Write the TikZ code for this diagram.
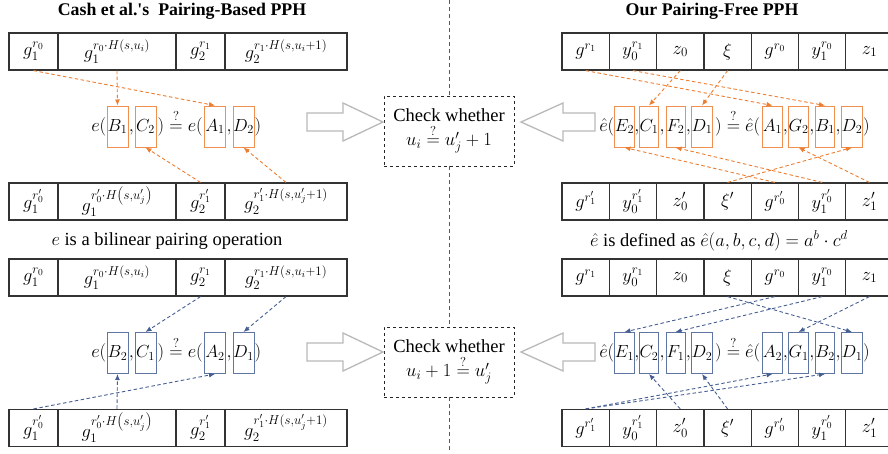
\documentclass[tikz,border=0pt]{standalone}
\usepackage{fix-cm}
\usepackage{amsmath,amssymb}
\usepackage{fontspec}
\setmainfont{Liberation Serif}
\usetikzlibrary{calc,positioning,arrows.meta}

\definecolor{pphorange}{RGB}{237,125,49}
\definecolor{pphblue}{RGB}{68,94,146}

\tikzset{
  cell/.style={draw=black!80,line width=1.2pt,minimum height=37pt,inner sep=0pt},
  argbox/.style={line width=1pt,minimum height=41pt,minimum width=19pt,inner sep=0pt,font=\fontsize{17.5}{20}\selectfont},
  eqtext/.style={inner sep=0pt,anchor=base},
  olink/.style={draw=pphorange,line width=0.9pt,dash pattern=on 3.5pt off 2.5pt,-{Latex[length=6pt,width=5pt]}},
  blink/.style={olink,draw=pphblue},
  chkbox/.style={draw=black!85,line width=0.9pt,dashed,fill=white,align=center,minimum width=130pt,minimum height=70pt},
  hollow/.style={draw=gray!55,line width=1.3pt,fill=white,line join=miter},
  sep/.style={draw=gray!70!black,line width=0.9pt,dash pattern=on 4pt off 3pt}
}

\begin{document}
\begin{tikzpicture}[x=1pt,y=-1pt,font=\fontsize{18.5}{22}\selectfont]
    \useasboundingbox (0,0) rectangle (888,453);

    % titles
    \node[font=\fontsize{17.8}{21}\selectfont\bfseries] (ltitle) at (182,11) {Cash et al.\textquotesingle s\ \ Pairing-Based PPH};
    \node[font=\fontsize{17.8}{21}\selectfont\bfseries] (rtitle) at (712,11) {Our Pairing-Free PPH};

    % left rows of group elements
    \foreach \row/\y in {1/51.5,3/277.5} {
        \node[cell,minimum width=49pt] (l\row c1) at (33.5,\y) {$g_1^{r_0}$};
        \node[cell,minimum width=118pt] (l\row c2) at (117,\y) {$g_1^{r_0\cdot H(s,u_i)}$};
        \node[cell,minimum width=49pt] (l\row c3) at (200.5,\y) {$g_2^{r_1}$};
        \node[cell,minimum width=122pt] (l\row c4) at (286,\y) {$g_2^{r_1\cdot H(s,u_i+1)}$};
    }
    \foreach \row/\y in {2/201.5,4/428} {
        \node[cell,minimum width=49pt] (l\row c1) at (33.5,\y) {$g_1^{r_0'}$};
        \node[cell,minimum width=118pt] (l\row c2) at (117,\y) {$g_1^{r_0'\cdot H\left(s,u_j'\right)}$};
        \node[cell,minimum width=49pt] (l\row c3) at (200.5,\y) {$g_2^{r_1'}$};
        \node[cell,minimum width=122pt] (l\row c4) at (286,\y) {$g_2^{r_1'\cdot H(s,u_j'+1)}$};
    }

    % right rows
    \foreach \row/\y in {1/51.5,3/277.5}
        \foreach \c [count=\i] in {g^{r_1},y_0^{r_1},z_0,\xi,g^{r_0},y_1^{r_0},z_1}
            \node[cell,minimum width=47.3pt] (r\row c\i) at ({538.35+47.3*\i},\y) {$\c$};
    \foreach \row/\y in {2/201.5,4/428}
        \foreach \c [count=\i] in {g^{r_1'},y_0^{r_1'},z_0',\xi',g^{r_0'},y_1^{r_0'},z_1'}
            \node[cell,minimum width=47.3pt] (r\row c\i) at ({538.35+47.3*\i},\y) {$\c$};

    \node (ldesc) at (167,241) {$e$ is a bilinear pairing operation};
    \node (rdesc) at (719,241) {$\hat{e}$ is defined as $\hat{e}(a,b,c,d)=a^b\cdot c^d$};

    % pairing checks, left
    \foreach \n/\x/\lab in {ltB1/117.5/B_1,ltC2/145.5/C_2,ltA1/215/A_1,ltD2/243.5/D_2}
        \node[argbox,minimum width=21pt,draw=pphorange!85] (\n) at (\x,126.5) {$\lab$};
    \foreach \n/\x/\lab in {lbB2/117.5/B_2,lbC1/145.5/C_1,lbA2/215/A_2,lbD1/243.5/D_1}
        \node[argbox,minimum width=21pt,draw=pphblue!85] (\n) at (\x,353) {$\lab$};
    \node[eqtext,anchor=base east] at (ltB1.base west) {$e($};
    \node[eqtext] at ($(ltB1.base east)!.5!(ltC2.base west)$) {$,$};
    \node[eqtext] at ($(ltC2.base east)!.5!(ltA1.base west)$) {$)\overset{?}{=}e($};
    \node[eqtext] at ($(ltA1.base east)!.5!(ltD2.base west)$) {$,$};
    \node[eqtext,anchor=base west] at (ltD2.base east) {$)$};
    \node[eqtext,anchor=base east] at (lbB2.base west) {$e($};
    \node[eqtext] at ($(lbB2.base east)!.5!(lbC1.base west)$) {$,$};
    \node[eqtext] at ($(lbC1.base east)!.5!(lbA2.base west)$) {$)\overset{?}{=}e($};
    \node[eqtext] at ($(lbA2.base east)!.5!(lbD1.base west)$) {$,$};
    \node[eqtext,anchor=base west] at (lbD1.base east) {$)$};

    % pairing-free checks, right
    \foreach \n/\x/\lab in {rtE2/624.5/E_2,rtC1/649/C_1,rtF2/675.5/F_2,rtD1/702/D_1,
                            rtA1/772.5/A_1,rtG2/798.5/G_2,rtB1/825/B_1,rtD2/852/D_2}
        \node[argbox,draw=pphorange!85] (\n) at (\x,126.5) {$\lab$};
    \foreach \n/\x/\lab in {rbE1/624.5/E_1,rbC2/649/C_2,rbF1/675.5/F_1,rbD2/702/D_2,
                            rbA2/772.5/A_2,rbG1/798.5/G_1,rbB2/825/B_2,rbD1/852/D_1}
        \node[argbox,draw=pphblue!85] (\n) at (\x,353) {$\lab$};
    \foreach \a/\b in {rtE2/rtC1,rtC1/rtF2,rtF2/rtD1,rtA1/rtG2,rtG2/rtB1,rtB1/rtD2,
                       rbE1/rbC2,rbC2/rbF1,rbF1/rbD2,rbA2/rbG1,rbG1/rbB2,rbB2/rbD1}
        \node[eqtext] at ($(\a.base east)!.5!(\b.base west)$) {$,$};
    \node[eqtext,anchor=base east] at (rtE2.base west) {$\hat{e}($};
    \node[eqtext] at ($(rtD1.base east)!.5!(rtA1.base west)$) {$)\overset{?}{=}\hat{e}($};
    \node[eqtext,anchor=base west] at (rtD2.base east) {$)$};
    \node[eqtext,anchor=base east] at (rbE1.base west) {$\hat{e}($};
    \node[eqtext] at ($(rbD2.base east)!.5!(rbA2.base west)$) {$)\overset{?}{=}\hat{e}($};
    \node[eqtext,anchor=base west] at (rbD1.base east) {$)$};

    % where each argument comes from
    \draw[olink] (l1c1.south) -- (ltA1.north);
    \draw[olink] (l1c2.south) -- (ltB1.north);
    \draw[olink] (l2c3.north) -- (ltC2.south);
    \draw[olink] (l2c4.north) -- (ltD2.south);
    \draw[blink] (l3c3.south) -- (lbC1.north);
    \draw[blink] (l3c4.south) -- (lbD1.north);
    \draw[blink] (l4c1.north) -- (lbA2.south);
    \draw[blink] (l4c2.north) -- (lbB2.south);

    \draw[olink] (r1c1.south) -- (rtA1.north);
    \draw[olink] (r1c2.south) -- (rtB1.north);
    \draw[olink] (r1c3.south) -- (rtC1.north);
    \draw[olink] (r1c4.south) -- (rtD1.north);
    \draw[olink] (r2c5.north) -- (rtE2.south);
    \draw[olink] (r2c6.north) -- (rtF2.south);
    \draw[olink] (r2c7.north) -- (rtG2.south);
    \draw[olink] (r2c4.north) -- (rtD2.south);
    \draw[blink] (r3c5.south) -- (rbE1.north);
    \draw[blink] (r3c6.south) -- (rbF1.north);
    \draw[blink] (r3c7.south) -- (rbG1.north);
    \draw[blink] (r3c4.south) -- (rbD1.north);
    \draw[blink] (r4c1.north) -- (rbA2.south);
    \draw[blink] (r4c1.north) -- (rbB2.south);
    \draw[blink] (r4c3.north) -- (rbC2.south);
    \draw[blink] (r4c4.north) -- (rbD2.south);

    % middle column
    \coordinate (septop) at (449,0);
    \coordinate (sepbot) at (449,453);
    \node[chkbox] (chk1) at (449,131) {Check whether\\[2pt]$u_i\overset{?}{=}u_j'+1$};
    \node[chkbox] (chk2) at (449,362) {Check whether\\[2pt]$u_i+1\overset{?}{=}u_j'$};
    \draw[sep] (septop) -- (chk1.north) (chk1.south) -- (chk2.north) (chk2.south) -- (sepbot);

    % hollow arrows into the checks
    \draw[hollow] (307,113) -- (343,113) -- (343,103) -- (383,122) -- (343,141) -- (343,131) -- (307,131) -- cycle;
    \draw[hollow] (595,113) -- (563,113) -- (563,103) -- (521,122) -- (563,141) -- (563,131) -- (595,131) -- cycle;
    \draw[hollow] (307,343) -- (343,343) -- (343,333) -- (383,352) -- (343,371) -- (343,361) -- (307,361) -- cycle;
    \draw[hollow] (595,343) -- (563,343) -- (563,333) -- (521,352) -- (563,371) -- (563,361) -- (595,361) -- cycle;
\end{tikzpicture}
\end{document}
